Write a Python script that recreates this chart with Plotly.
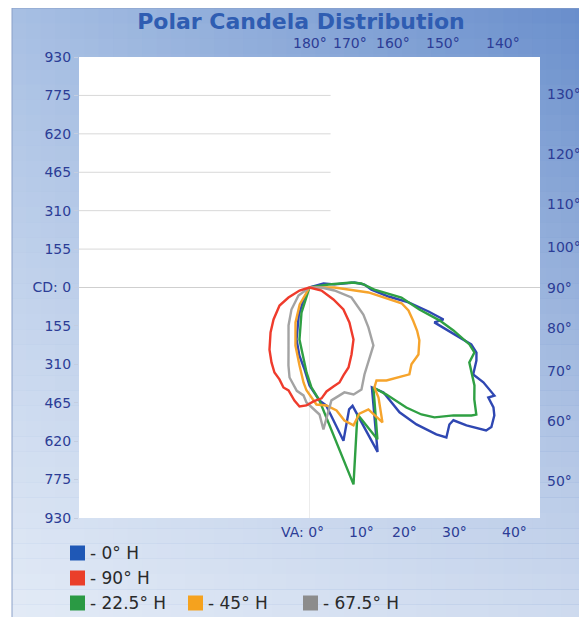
import numpy as np
import plotly.graph_objects as go

# vertical angle (deg from nadir, negative = opposite half plane) and candela per H plane
va_0h = [-180, -26, -21, -14, -8.5, -3.5, 0, 5, 8, 12.5, 18, 20, 22.5, 32, 35.2, 35.8, 38, 40.8, 42.4, 45.6,
         47.3, 48.7, 51, 52.5, 55.3, 56.9, 58.4, 59.7, 61.4, 62, 66.4, 68.7, 70.6, 72, 74.4, 76.6, 78.6, 81.4,
         83.5, 88, 93, 96.3, 97, 106, 180]
cd_0h = [0, 55, 121, 216, 277, 331, 395, 457, 480, 633, 517, 508, 718, 475, 518, 621, 701, 783, 819, 790,
         790, 843, 917, 925, 907, 886, 847, 864, 799, 748, 735, 723, 692, 615, 523, 556, 490, 404,
         321, 250, 222, 183, 102, 59, 0]

va_90h = [-180, -73, -64.5, -59, -48.4, -40.9, -32.8, -26.9, -22.4, -18.1, -14.6, -11.5, -7.6, -4.8, -1.5, 2,
          6.2, 9.3, 13.6, 17.5, 21.1, 26, 32.1, 40.2, 48.8, 57.1, 63.4, 76, 180]
cd_90h = [0, 42, 94, 141, 194, 240, 298, 339, 371, 390, 417, 424, 460, 482, 476, 460,
          450, 425, 411, 402, 380, 359, 319, 275, 214, 163, 108, 50, 0]

va_22h = [-180, -17.7, -10.9, -4.8, -2, 1.1, 5, 12.6, 20.7, 24.1, 32.6, 35.7, 38.9, 41.4, 43.9, 48.4, 51.7,
          52.7, 55.8, 59.3, 62.3, 64.9, 68.5, 70.4, 73.4, 75.8, 78.7, 83.8, 88.2, 94.4, 96.8, 99, 180]
cd_22h = [0, 106, 214, 291, 343, 403, 457, 814, 547, 671, 479, 532, 622, 683, 727, 777, 833,
          846, 804, 774, 738, 712, 715, 685, 606, 541, 452, 373, 262, 210, 171, 78, 0]

va_45h = [-180, -30, -21.8, -13.6, -7.3, -3.6, -1.7, 3.4, 8.2, 12.4, 14.7, 17.7, 21.6, 25.8, 28.4, 32.1, 33,
          35.8, 39.6, 44.7, 49, 53, 58.4, 64.3, 68.1, 72.1, 76.9, 80.3, 85.2, 90, 180]
cd_45h = [0, 79, 152, 241, 317, 384, 415, 473, 481, 508, 555, 584, 547, 546, 619, 524, 481,
          462, 487, 510, 534, 515, 516, 492, 468, 440, 410, 377, 239, 101, 0]

va_67h = [-180, -54, -39.3, -28.9, -18.7, -15.1, -12.5, -7, -3.2, -1.5, 4.5, 5.6, 11, 18.4, 22.4, 27, 32.3,
          40.6, 47.8, 55.9, 63.4, 76.6, 83.2, 90, 180]
cd_67h = [0, 55, 115, 175, 264, 326, 372, 420, 436, 464, 514, 575, 464, 446, 467, 462, 415,
          372, 348, 287, 243, 174, 101, 48, 0]

cd_ticks = [-930, -775, -620, -465, -310, -155, 0, 155, 310, 465, 620, 775, 930]
cd_labels = ["930", "775", "620", "465", "310", "155", "CD: 0", "155", "310", "465", "620", "775", "930"]
top_angles = [180, 170, 160, 150, 140]
right_angles = [130, 120, 110, 100, 90, 80, 70, 60, 50]
bottom_angles = [0, 10, 20, 30, 40]

# name, line colour, legend swatch colour, data
planes = [
    ("- 0° H", "#2f47b2", "#1f58b6", va_0h, cd_0h),
    ("- 90° H", "#ef3b2c", "#ea3f2a", va_90h, cd_90h),
    ("- 22.5° H", "#2fa043", "#2a9a44", va_22h, cd_22h),
    ("- 45° H", "#f6a42c", "#f5a21e", va_45h, cd_45h),
    ("- 67.5° H", "#a3a3a3", "#8c8c8c", va_67h, cd_67h),
]

# the page body keeps its 8px margin, so the figure is sized to end at the window edge
OFF = 8
W, H = 587 - OFF, 617 - OFF
L, R, T, B = 79 - OFF, 47, 57 - OFF, 99
PW, PH = W - L - R, H - T - B
LIM = 930
label_color = "#2c3d96"
font_family = "DejaVu Sans"


# page pixel -> paper coords
def px_x(px):
    return (px - OFF - L) / PW


def px_y(py):
    return (H - B - (py - OFF)) / PH


fig = go.Figure()

draw_order = [0, 2, 3, 4, 1]
for i in draw_order:
    name, color, _, va, cd = planes[i]
    th = np.radians(va)
    cd = np.array(cd, dtype=float)
    fig.add_trace(go.Scatter(
        x=cd * np.sin(th), y=-cd * np.cos(th),
        mode="lines", line=dict(color=color, width=2.4),
        name=name, showlegend=False, hoverinfo="skip",
    ))

shapes = []
# blue gradient panel behind everything
x_left, x_right, y_top, y_bot = 12, 590, 8, 620
n = 40
c_left, c_right = np.array([168, 192, 228]), np.array([104, 142, 204])
for k in range(n):
    x0 = x_left + (x_right - x_left) * k / n
    x1 = x_left + (x_right - x_left) * (k + 1) / n + 1
    c = c_left + (c_right - c_left) * (k + 0.5) / n
    shapes.append(dict(type="rect", xref="paper", yref="paper", layer="below",
                       x0=px_x(x0), x1=px_x(x1), y0=px_y(y_bot), y1=px_y(y_top),
                       fillcolor="rgb(%d,%d,%d)" % tuple(c), line_width=0))
for k in range(n):
    y0 = y_top + (y_bot - y_top) * k / n
    y1 = y_top + (y_bot - y_top) * (k + 1) / n
    a = 0.68 * (k + 0.5) / n
    shapes.append(dict(type="rect", xref="paper", yref="paper", layer="below",
                       x0=px_x(x_left), x1=px_x(x_right), y0=px_y(y1), y1=px_y(y0),
                       fillcolor="rgba(255,255,255,%.3f)" % a, line_width=0))
shapes.append(dict(type="rect", xref="paper", yref="paper", layer="below",
                   x0=px_x(x_left), x1=px_x(x_right), y0=px_y(y_bot), y1=px_y(y_top),
                   line=dict(color="#8aa0c8", width=1)))

# white plot area and faint grid
shapes.append(dict(type="rect", xref="x", yref="y", layer="below",
                   x0=-LIM, x1=LIM, y0=-LIM, y1=LIM, fillcolor="white", line_width=0))
for v in cd_ticks:
    if 0 < v < LIM:
        shapes.append(dict(type="line", xref="x", yref="y", layer="below",
                           x0=-LIM, x1=85, y0=v, y1=v, line=dict(color="#d8d8d8", width=1)))
shapes.append(dict(type="line", xref="x", yref="y", layer="below",
                   x0=-LIM, x1=LIM, y0=0, y1=0, line=dict(color="#cfcfcf", width=1)))
shapes.append(dict(type="line", xref="x", yref="y", layer="below",
                   x0=0, x1=0, y0=0, y1=-LIM, line=dict(color="#ececec", width=1)))

annotations = []
lab_font = dict(family=font_family, size=14, color=label_color)
for a in top_angles:
    annotations.append(dict(x=LIM * np.tan(np.radians(180 - a)), y=LIM, xref="x", yref="y",
                            text=f"{a}°", showarrow=False, xanchor="center", yanchor="bottom",
                            yshift=4, font=lab_font))
for a in right_angles:
    th = np.radians(a)
    annotations.append(dict(x=LIM, y=-LIM * np.cos(th) / np.sin(th), xref="x", yref="y",
                            text=f"{a}°", showarrow=False, xanchor="left", yanchor="middle",
                            xshift=5, font=lab_font))
for a in bottom_angles:
    if a == 0:
        annotations.append(dict(x=0, y=-LIM, xref="x", yref="y", text="VA: 0°", showarrow=False,
                                xanchor="right", yanchor="top", xshift=16, yshift=-4, font=lab_font))
    else:
        annotations.append(dict(x=LIM * np.tan(np.radians(a)), y=-LIM, xref="x", yref="y",
                                text=f"{a}°", showarrow=False, xanchor="left", yanchor="top",
                                xshift=-3, yshift=-4, font=lab_font))

# hand-laid legend: two single rows, then three on the last row
legend_slots = [(70, 553), (70, 578), (70, 603), (188, 603), (303, 603)]
sq = 15
for (lx, ly), (name, _, swatch, _, _) in zip(legend_slots, planes):
    shapes.append(dict(type="rect", xref="paper", yref="paper", layer="above",
                       x0=px_x(lx), x1=px_x(lx + sq), y0=px_y(ly + sq / 2), y1=px_y(ly - sq / 2),
                       fillcolor=swatch, line_width=0))
    annotations.append(dict(x=px_x(lx + sq + 3), y=px_y(ly), xref="paper", yref="paper",
                            text=name, showarrow=False, xanchor="left", yanchor="middle",
                            font=dict(family=font_family, size=17, color="#2a2a2a")))

fig.update_layout(
    width=W, height=H,
    margin=dict(l=L, r=R, t=T, b=B),
    paper_bgcolor="white",
    plot_bgcolor="white",
    title=dict(text="<b>Polar Candela Distribution</b>", x=(301 - OFF) / W, xanchor="center",
               y=1 - (21 - OFF) / H, yanchor="middle",
               font=dict(family=font_family, size=22, color="#2f5db2")),
    xaxis=dict(range=[-LIM, LIM], showgrid=False, zeroline=False, showticklabels=False,
               ticks="", fixedrange=True),
    yaxis=dict(range=[-LIM, LIM], showgrid=False, zeroline=False, tickvals=cd_ticks,
               ticktext=cd_labels, ticks="outside", ticklen=4, tickcolor="#c3cde0",
               tickfont=dict(family=font_family, size=14, color=label_color), fixedrange=True),
    shapes=shapes,
    annotations=annotations,
    showlegend=False,
)

fig.write_html("out.html")
